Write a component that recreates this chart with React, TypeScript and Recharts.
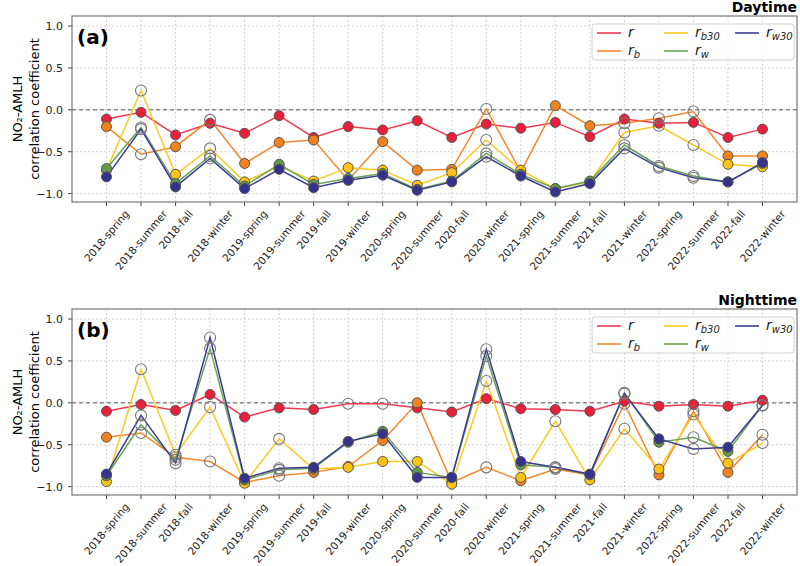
import React from "react";
import {
  LineChart, Line, XAxis, YAxis, CartesianGrid, ReferenceLine,
} from "recharts";

const seasons = [
  "2018-spring", "2018-summer", "2018-fall", "2018-winter",
  "2019-spring", "2019-summer", "2019-fall", "2019-winter",
  "2020-spring", "2020-summer", "2020-fall", "2020-winter",
  "2021-spring", "2021-summer", "2021-fall", "2021-winter",
  "2022-spring", "2022-summer", "2022-fall", "2022-winter",
];

// daytime correlations
const dayR = [-0.11, -0.03, -0.30, -0.16, -0.28, -0.07, -0.33, -0.20, -0.24, -0.13, -0.33, -0.17, -0.22, -0.15, -0.32, -0.11, -0.16, -0.15, -0.33, -0.23];
const dayRb = [-0.20, -0.53, -0.44, -0.12, -0.64, -0.39, -0.36, -0.84, -0.38, -0.72, -0.71, 0.01, -0.74, 0.05, -0.19, -0.16, -0.10, -0.02, -0.55, -0.55];
const dayRb30 = [-0.72, 0.23, -0.77, -0.46, -0.86, -0.67, -0.85, -0.69, -0.72, -0.90, -0.75, -0.36, -0.72, -0.94, -0.86, -0.27, -0.19, -0.42, -0.65, -0.68];
const dayRw = [-0.70, -0.21, -0.88, -0.55, -0.91, -0.65, -0.89, -0.82, -0.76, -0.95, -0.85, -0.52, -0.77, -0.94, -0.85, -0.42, -0.67, -0.79, -0.86, -0.64];
const dayRw30 = [-0.80, -0.23, -0.92, -0.58, -0.94, -0.71, -0.93, -0.84, -0.78, -0.96, -0.86, -0.56, -0.79, -0.98, -0.88, -0.46, -0.69, -0.81, -0.86, -0.63];

// 1 = significant (filled marker), 0 = hollow marker
const daySigR = [1, 1, 1, 1, 1, 1, 1, 1, 1, 1, 1, 1, 1, 1, 1, 1, 1, 1, 1, 1];
const daySigRb = [1, 0, 1, 0, 1, 1, 1, 1, 1, 1, 1, 0, 1, 1, 1, 0, 0, 0, 1, 1];
const daySigRb30 = [1, 0, 1, 0, 1, 1, 1, 1, 1, 1, 1, 0, 1, 1, 1, 0, 0, 0, 1, 1];
const daySigRw = [1, 0, 1, 0, 1, 1, 1, 1, 1, 1, 1, 0, 1, 1, 1, 0, 0, 0, 1, 1];
const daySigRw30 = [1, 0, 1, 0, 1, 1, 1, 1, 1, 1, 1, 0, 1, 1, 1, 0, 0, 0, 1, 1];

// nighttime correlations
const nightR = [-0.10, -0.02, -0.09, 0.10, -0.17, -0.06, -0.08, -0.01, -0.01, -0.06, -0.11, 0.05, -0.07, -0.08, -0.10, 0.02, -0.04, -0.02, -0.04, 0.03];
const nightRb = [-0.41, -0.36, -0.65, -0.70, -0.95, -0.87, -0.83, -0.76, -0.45, 0.00, -0.95, -0.77, -0.93, -0.79, -0.86, -0.01, -0.86, -0.10, -0.83, -0.38];
const nightRb30 = [-0.94, 0.40, -0.62, -0.05, -0.96, -0.43, -0.79, -0.77, -0.70, -0.70, -0.97, 0.26, -0.89, -0.22, -0.92, -0.31, -0.79, -0.14, -0.72, -0.48];
const nightRw = [-0.87, -0.26, -0.68, 0.65, -0.92, -0.80, -0.78, -0.47, -0.34, -0.83, -0.89, 0.56, -0.74, -0.77, -0.86, 0.12, -0.47, -0.41, -0.58, -0.03];
const nightRw30 = [-0.85, -0.15, -0.72, 0.78, -0.90, -0.78, -0.77, -0.46, -0.37, -0.89, -0.89, 0.64, -0.70, -0.77, -0.85, 0.11, -0.43, -0.55, -0.53, -0.03];

const nightSigR = [1, 1, 1, 1, 1, 1, 1, 0, 0, 1, 1, 1, 1, 1, 1, 1, 1, 1, 1, 1];
const nightSigRb = [1, 0, 0, 0, 1, 0, 1, 1, 1, 1, 1, 0, 1, 0, 1, 0, 1, 0, 1, 0];
const nightSigRb30 = [1, 0, 0, 0, 1, 0, 1, 1, 1, 1, 1, 0, 1, 0, 1, 0, 1, 0, 1, 0];
const nightSigRw = [1, 0, 0, 0, 1, 0, 1, 1, 1, 1, 1, 0, 1, 0, 1, 0, 1, 0, 1, 0];
const nightSigRw30 = [1, 0, 0, 0, 1, 0, 1, 1, 1, 1, 1, 0, 1, 0, 1, 0, 1, 0, 1, 0];

const yTicks = [-1, -0.5, 0, 0.5, 1];

const series = [
  { key: "r", sub: "", line: "#ef3a4f", fill: "#e8203a" },
  { key: "rb", sub: "b", line: "#f5862a", fill: "#f4821c" },
  { key: "rb30", sub: "b30", line: "#fcc922", fill: "#fdc414" },
  { key: "rw", sub: "w", line: "#6ba553", fill: "#5f9b48" },
  { key: "rw30", sub: "w30", line: "#3b3a95", fill: "#35328e" },
];

const FONT = "DejaVu Sans";
const ANG = 50;
const PLOT_H = 186;

const ctx = typeof document !== "undefined" ? document.createElement("canvas").getContext("2d") : null;
function textWidth(s: string, size: number) {
  if (!ctx) return s.length * size * 0.6;
  ctx.font = `${size}px "${FONT}"`;
  return ctx.measureText(s).width;
}

function SeasonTick(props: any) {
  const { x, y, payload } = props;
  const fs = 10.5;
  const L = textWidth(payload.value, fs);
  const h = fs * 0.76;
  const a = (ANG * Math.PI) / 180;
  const ex = x + (L * Math.cos(a) + h * Math.sin(a)) / 2;
  const ey = y + 1 + h * Math.cos(a);
  return (
    <text x={ex} y={ey} textAnchor="end" fontSize={fs} fill="#222"
      transform={`rotate(-${ANG}, ${ex}, ${ey})`}>
      {payload.value}
    </text>
  );
}

const fmt = (v: number) => (v < 0 ? "\u2212" + Math.abs(v).toFixed(1) : v.toFixed(1));

const makeDot = (color: string, sig: number[]) => (p: any) => {
  const { cx, cy, index } = p;
  if (cx == null || cy == null) return <g key={`e${index}`} />;
  return sig[index] ? (
    <circle key={`d${index}`} cx={cx} cy={cy} r={5} fill={color} stroke="#555" strokeWidth={1} />
  ) : (
    <circle key={`d${index}`} cx={cx} cy={cy} r={5.5} fill="none" stroke="#777" strokeWidth={1.1} />
  );
};

function Panel(props: { vals: Record<string, number[]>; sig: Record<string, number[]>; height: number; top: number; axisH: number }) {
  const { vals, sig, height, top, axisH } = props;
  const rows = seasons.map((s, i) => {
    const o: any = { season: s };
    series.forEach((sr) => (o[sr.key] = vals[sr.key][i]));
    return o;
  });
  return (
    <LineChart width={800} height={height} data={rows} margin={{ top, right: 3, bottom: 0, left: 0 }}>
      <CartesianGrid stroke="#d2d2d2" strokeDasharray="2 2" />
      <XAxis dataKey="season" interval={0} padding={{ left: 34.5, right: 34.5 }} height={axisH}
        tick={<SeasonTick />} tickSize={4} axisLine={false} tickLine={{ stroke: "#444" }} />
      <YAxis width={72} domain={[-1.1, 1.12]} ticks={yTicks} tickFormatter={fmt} allowDataOverflow
        tick={{ fontSize: 11, fill: "#222" }} tickSize={4} tickMargin={5}
        axisLine={false} tickLine={{ stroke: "#444" }} />
      <ReferenceLine y={0} stroke="#555" strokeDasharray="4 3" />
      {series.map((sr) => (
        <Line key={sr.key} type="linear" dataKey={sr.key} stroke={sr.line} strokeWidth={1.5}
          dot={makeDot(sr.fill, sig[sr.key])} activeDot={false} isAnimationActive={false} />
      ))}
    </LineChart>
  );
}

const legendSlots = [
  { x: 597, row: 0 }, { x: 597, row: 1 }, { x: 664, row: 0 }, { x: 664, row: 1 }, { x: 735, row: 0 },
];

function Overlay(props: { y0: number; plotTop: number; title: string; tag: string }) {
  const { y0, plotTop, title, tag } = props;
  const mid = plotTop + PLOT_H / 2;
  return (
    <g>
      <rect x={72} y={plotTop} width={725} height={PLOT_H} fill="none" stroke="#7d7d7d" strokeWidth={1.2} />
      <text x={797} y={y0 + 12} textAnchor="end" fontSize={14} fontWeight="bold" fill="#000">{title}</text>
      <text x={77} y={y0 + 44} fontSize={20} fontWeight="bold" fill="#000">{tag}</text>
      <text transform={`translate(22, ${mid}) rotate(-90)`} textAnchor="middle" fontSize={13} fill="#000">NO₂-AMLH</text>
      <text transform={`translate(39, ${mid}) rotate(-90)`} textAnchor="middle" fontSize={13} fill="#000">correlation coefficient</text>
      <rect x={592} y={y0 + 24} width={202} height={36} rx={3} fill="#fff" fillOpacity={0.85} stroke="#cfcfcf" />
      {series.map((sr, i) => {
        const s = legendSlots[i];
        const ly = y0 + 33 + s.row * 18;
        return (
          <g key={sr.key}>
            <line x1={s.x} x2={s.x + 24} y1={ly} y2={ly} stroke={sr.line} strokeWidth={1.6} />
            <text x={s.x + 31} y={ly + 4} fontSize={14} fill="#222">
              <tspan fontStyle="italic">r</tspan>
              {sr.sub && <tspan fontSize={10} dy={3} fontStyle="italic">{sr.sub}</tspan>}
            </text>
          </g>
        );
      })}
    </g>
  );
}

export default function App() {
  const day = { r: dayR, rb: dayRb, rb30: dayRb30, rw: dayRw, rw30: dayRw30 };
  const daySig = { r: daySigR, rb: daySigRb, rb30: daySigRb30, rw: daySigRw, rw30: daySigRw30 };
  const night = { r: nightR, rb: nightRb, rb30: nightRb30, rw: nightRw, rw30: nightRw30 };
  const nightSig = { r: nightSigR, rb: nightSigRb, rb30: nightSigRb30, rw: nightSigRw, rw30: nightSigRw30 };
  return (
    <div style={{ position: "absolute", left: 0, top: 0, width: 800, height: 566, background: "#fff", fontFamily: FONT }}>
      <div style={{ position: "absolute", left: 0, top: 0 }}>
        <Panel vals={day} sig={daySig} height={290} top={16} axisH={88} />
      </div>
      <div style={{ position: "absolute", left: 0, top: 290 }}>
        <Panel vals={night} sig={nightSig} height={276} top={19} axisH={71} />
      </div>
      <svg width={800} height={566} style={{ position: "absolute", left: 0, top: 0, pointerEvents: "none", fontFamily: FONT }}>
        <Overlay y0={0} plotTop={16} title="Daytime" tag="(a)" />
        <Overlay y0={293} plotTop={309} title="Nighttime" tag="(b)" />
      </svg>
    </div>
  );
}
